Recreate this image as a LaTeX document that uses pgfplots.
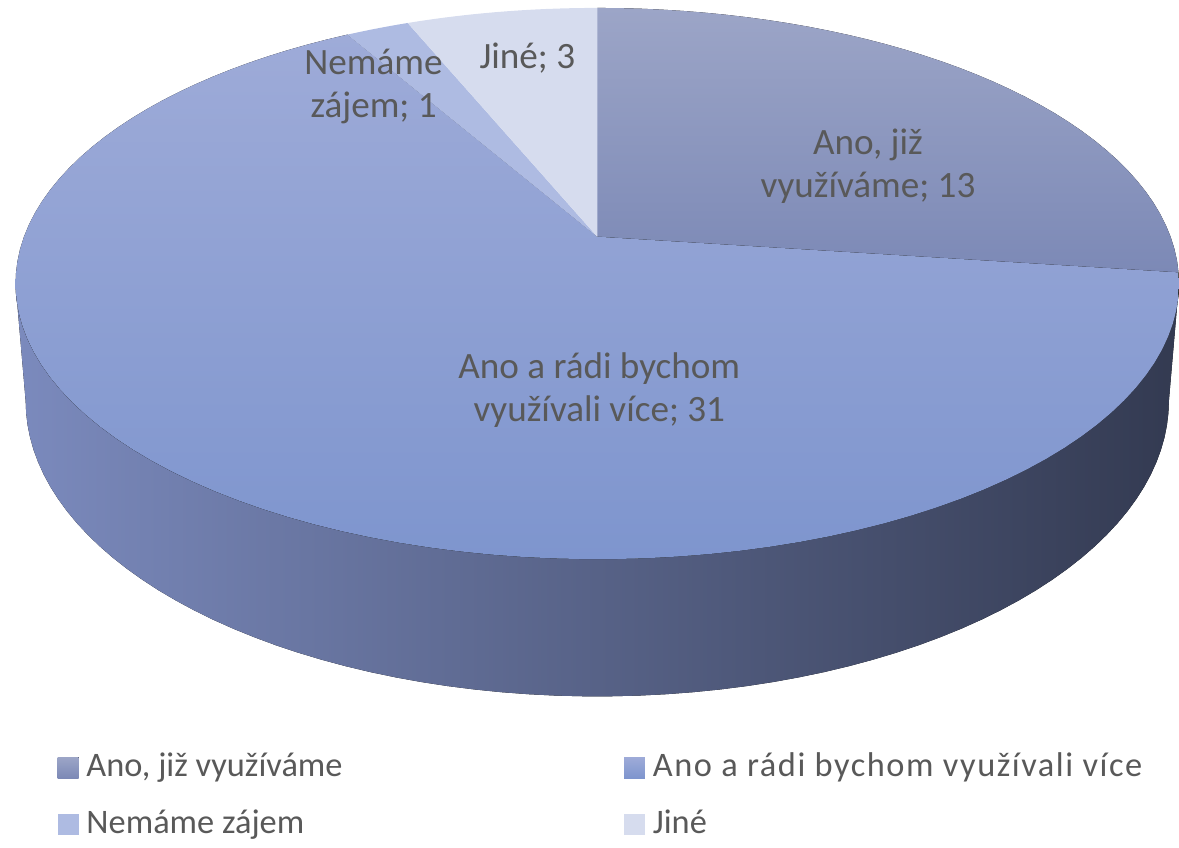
\documentclass[border=0pt]{standalone}
\usepackage{pgfplots}
\pgfplotsset{compat=1.18}
\usepackage{fontspec}
\setmainfont{Carlito}

\definecolor{lbl}{HTML}{595959}
\definecolor{cAtop}{HTML}{9CA5C7}
\definecolor{cAbot}{HTML}{7C89B6}
\definecolor{cBtop}{HTML}{9EABD8}
\definecolor{cBbot}{HTML}{7E95CE}
\definecolor{cC}{HTML}{AEBBE2}
\definecolor{cD}{HTML}{D6DCEE}
\definecolor{wallL}{HTML}{7B8ABD}
\definecolor{wallM}{HTML}{48526F}
\definecolor{wallR}{HTML}{333A51}

% values of the four slices, clockwise from the top
\def\valA{13}
\def\valB{31}
\def\valC{1}
\def\valD{3}

\begin{document}
\begin{tikzpicture}[
  declare function={
    px(\t)=598+574*sin(\t)/(1+0.17*cos(\t));
    py(\t)=237-268*cos(\t)/(1+0.17*cos(\t));
    pxb(\t)=598+564*sin(\t)/(1+0.17*cos(\t));
    pyb(\t)=py(\t)+114/(1+0.17*cos(\t));
  }]
\pgfmathsetmacro\tot{\valA+\valB+\valC+\valD}
\pgfmathsetmacro\angA{360*\valA/\tot}
\pgfmathsetmacro\angB{\angA+360*\valB/\tot}
\pgfmathsetmacro\angC{\angB+360*\valC/\tot}
\begin{axis}[
  scale only axis, width=294.75pt, height=210.5pt,
  xmin=0, xmax=1179, ymin=0, ymax=842, y dir=reverse,
  hide axis, clip=false,
  legend columns=2,
  legend image code/.code={\fill[#1, draw=none] (0pt,-2.6pt) rectangle (5.2pt,2.6pt);},
  legend cell align=left,
  legend style={draw=none, fill=none, at={(axis cs:57,797)}, anchor=west,
    font=\fontsize{8.6}{10}\selectfont, text=lbl, inner sep=0pt, row sep=2.8pt,
    /tikz/column 2/.style={column sep=68.5pt}},
]
\path (axis cs:0,0) rectangle (axis cs:1179,842);
% side wall (front part, belongs to the large slice)
\fill[left color=wallL, middle color=wallM, right color=wallR]
  plot[domain=99.8:260.2, samples=70, variable=\t] (axis cs:{px(\t)},{py(\t)})
  -- plot[domain=260.2:99.8, samples=70, variable=\t] (axis cs:{pxb(\t)},{pyb(\t)}) -- cycle;
% top face slices
\fill[top color=cAtop, bottom color=cAbot] (axis cs:598,237)
  -- plot[domain=0:\angA, samples=40, variable=\t] (axis cs:{px(\t)},{py(\t)}) -- cycle;
\fill[top color=cBtop, bottom color=cBbot] (axis cs:598,237)
  -- plot[domain=\angA:\angB, samples=90, variable=\t] (axis cs:{px(\t)},{py(\t)}) -- cycle;
\fill[cC] (axis cs:598,237)
  -- plot[domain=\angB:\angC, samples=8, variable=\t] (axis cs:{px(\t)},{py(\t)}) -- cycle;
\fill[cD] (axis cs:598,237)
  -- plot[domain=\angC:360, samples=16, variable=\t] (axis cs:{px(\t)},{py(\t)}) -- cycle;

% data labels
\begin{scope}[every node/.style={align=center, text=lbl, font=\fontsize{9.3}{10.8}\selectfont}]
\node at (axis cs:869,166) {Ano, již\\využíváme; \valA};
\node at (axis cs:600,391) {Ano a rádi bychom\\využívali více; \valB};
\node at (axis cs:374,87) {Nemáme\\zájem; \valC};
\node at (axis cs:528,58) {Jiné; \valD};
\end{scope}

\addlegendimage{top color=cAtop, bottom color=cAbot}
\addlegendentry{Ano, již využíváme}
\addlegendimage{top color=cBtop, bottom color=cBbot}
\addlegendentry{\addfontfeatures{LetterSpace=4.5}Ano a rádi bychom využívali více}
\addlegendimage{fill=cC}
\addlegendentry{Nemáme zájem}
\addlegendimage{fill=cD}
\addlegendentry{Jiné}
\end{axis}
\end{tikzpicture}
\end{document}
